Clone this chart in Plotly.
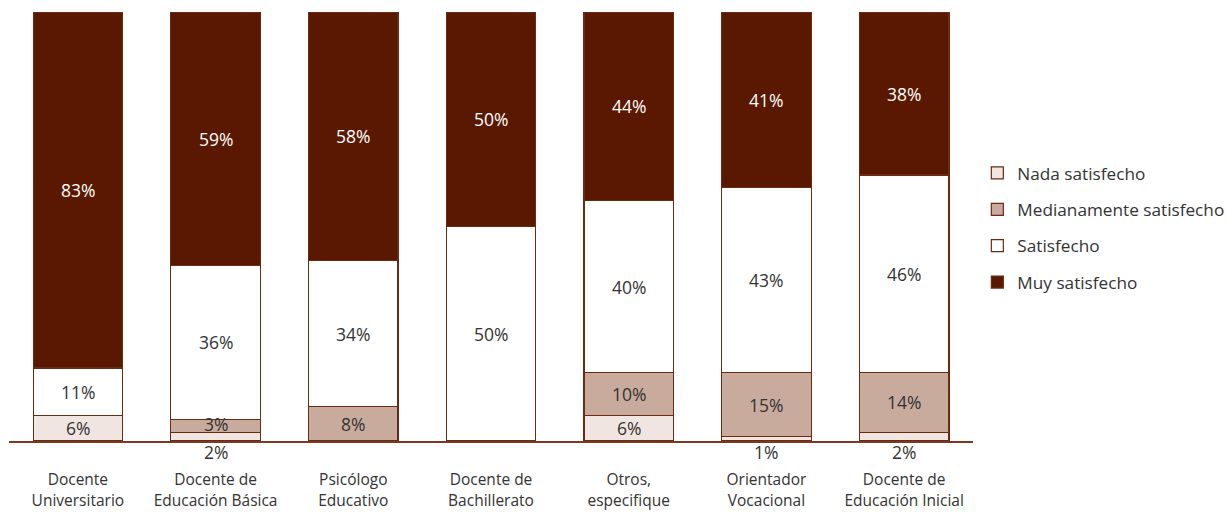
import plotly.graph_objects as go

categories = ["Docente<br>Universitario", "Docente de<br>Educación Básica", "Psicólogo<br>Educativo",
              "Docente de<br>Bachillerato", "Otros,<br>especifique", "Orientador<br>Vocacional",
              "Docente de<br>Educación Inicial"]
nada = [6, 2, 0, 0, 6, 1, 2]
mediana = [0, 3, 8, 0, 10, 15, 14]
satisfecho = [11, 36, 34, 50, 40, 43, 46]
muy = [83, 59, 58, 50, 44, 41, 38]

series = [
    ("Nada satisfecho", nada, "#f1e5e1"),
    ("Medianamente satisfecho", mediana, "#c9ab9e"),
    ("Satisfecho", satisfecho, "#ffffff"),
    ("Muy satisfecho", muy, "#5a1800"),
]

FONT = "Open Sans"
fig = go.Figure()
for i, (name, vals, col) in enumerate(series):
    fig.add_trace(go.Bar(
        x=categories, y=vals, name=name, legendgroup=name,
        marker=dict(color=col, line=dict(color="#6b2a12", width=1.2)),
        hoverinfo="skip",
    ))

annotations = []
base = [0] * len(categories)
for name, vals, col in series:
    for j, v in enumerate(vals):
        if v > 0:
            if v <= 2:
                annotations.append(dict(x=categories[j], y=0, yanchor="top", yshift=3,
                                        text=f"{v}%", showarrow=False,
                                        font=dict(family=FONT, size=17.5, color="#333333")))
            else:
                annotations.append(dict(x=categories[j], y=base[j] + v / 2,
                                        text=f"{v}%", showarrow=False,
                                        yshift=2 if v < 5 else 0,
                                        font=dict(family=FONT, size=17.5,
                                                  color="#ffffff" if name == "Muy satisfecho" else "#333333")))
        base[j] += v

fig.update_layout(
    barmode="stack",
    bargap=0.35,
    width=1227, height=512,
    margin=dict(l=9, r=254, t=12, b=71, autoexpand=False),
    paper_bgcolor="white", plot_bgcolor="white",
    font=dict(family=FONT, size=15.5, color="#333333"),
    annotations=annotations,
    legend=dict(x=1.0045, y=0.497, xanchor="left", yanchor="middle",
                traceorder="grouped", tracegroupgap=11,
                font=dict(family=FONT, size=17.2, color="#333333")),
    xaxis=dict(showline=True, linecolor="#7a3a22", linewidth=1.5, ticks="",
               automargin=False, showgrid=False, ticklabelstandoff=24,
               tickfont=dict(size=15.5, color="#333333")),
    yaxis=dict(range=[0, 100], visible=False, showgrid=False, automargin=False),
)
fig.write_html("out.html", config={"displayModeBar": False},
               post_script="document.body.style.margin='0';")
